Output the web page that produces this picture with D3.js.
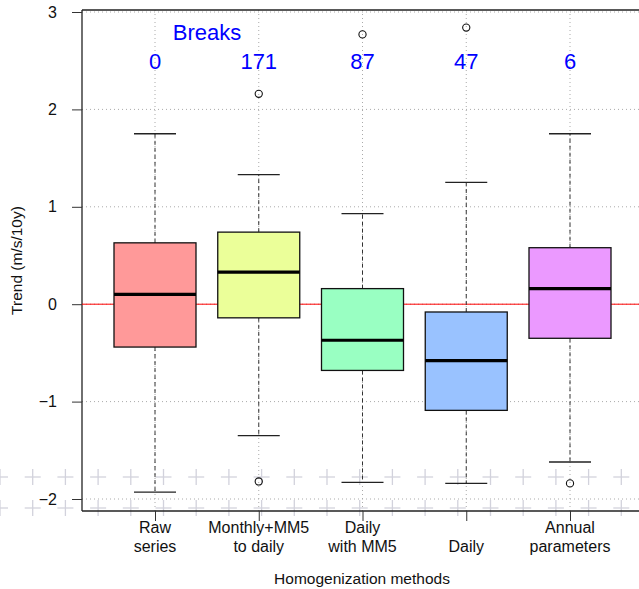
<!DOCTYPE html>
<html>
<head>
<meta charset="utf-8">
<script src="https://cdn.jsdelivr.net/npm/d3@7"></script>
<style>
  body { margin: 0; background: #fff; }
  text { font-family: "Liberation Sans", Arial, sans-serif; }
</style>
</head>
<body>
<div id="chart"></div>
<script>
var svgWidth = 639;
var svgHeight = 589;

// data
var categories = ["Raw\nseries", "Monthly+MM5\nto daily", "Daily\nwith MM5", "Daily", "Annual\nparameters"];
var breaks = [0, 171, 87, 47, 6];
var q1 = [-0.44, -0.14, -0.68, -1.09, -0.35];
var medians = [0.10, 0.33, -0.37, -0.58, 0.16];
var q3 = [0.63, 0.74, 0.16, -0.08, 0.58];
var whiskerLow = [-1.93, -1.35, -1.83, -1.84, -1.62];
var whiskerHigh = [1.75, 1.33, 0.93, 1.25, 1.75];
var outliers = [[], [2.16, -1.82], [2.77], [2.84], [-1.84]];
var boxColors = ["#FF9999", "#EBFF99", "#99FFC2", "#99C2FF", "#EB99FF"];
var yTicks = [-2, -1, 0, 1, 2, 3];

var plot = { left: 82, top: 10, bottom: 511 };

var svg = d3.select("#chart")
  .append("svg")
  .attr("width", svgWidth)
  .attr("height", svgHeight);

// scales
var x = d3.scalePoint()
  .domain(categories)
  .range([155, 570]);

var y = d3.scaleLinear()
  .domain([-2, 3])
  .range([499, 12]);

// faint slide background crosses
var crossGroup = svg.append("g").attr("stroke", "#d2d2dc").attr("stroke-width", 1.3);
[477, 508].forEach(function(cy) {
  d3.range(0, 20).forEach(function(k) {
    var cx = k * 32.7;
    crossGroup.append("line").attr("x1", cx - 8).attr("x2", cx + 8).attr("y1", cy).attr("y2", cy);
    crossGroup.append("line").attr("x1", cx).attr("x2", cx).attr("y1", cy - 8).attr("y2", cy + 8);
  });
});

// grid
var grid = svg.append("g")
  .attr("stroke", "#aaa")
  .attr("stroke-dasharray", "1,3");
yTicks.forEach(function(t) {
  grid.append("line")
    .attr("x1", plot.left).attr("x2", svgWidth)
    .attr("y1", y(t)).attr("y2", y(t));
});
categories.forEach(function(c) {
  grid.append("line")
    .attr("x1", x(c)).attr("x2", x(c))
    .attr("y1", plot.top).attr("y2", plot.bottom);
});

// frame
var frame = svg.append("g").attr("stroke", "#222").attr("stroke-width", 1.3);
frame.append("line").attr("x1", plot.left).attr("x2", plot.left).attr("y1", plot.top).attr("y2", plot.bottom);
frame.append("line").attr("x1", plot.left).attr("x2", svgWidth).attr("y1", plot.top).attr("y2", plot.top);
frame.append("line").attr("x1", plot.left).attr("x2", svgWidth).attr("y1", plot.bottom).attr("y2", plot.bottom);

// y axis
var leftAxis = d3.axisLeft(y)
  .tickValues(yTicks)
  .tickSize(10)
  .tickPadding(15)
  .tickFormat(function(d) { return d < 0 ? "\u2212" + Math.abs(d) : d; });
var yAxis = svg.append("g")
  .attr("transform", "translate(" + plot.left + ",0)")
  .call(leftAxis);
yAxis.select(".domain").remove();
yAxis.selectAll("text").attr("font-size", 16).attr("fill", "#111")
  .attr("font-family", "Liberation Sans, Arial, sans-serif");
yAxis.selectAll("line").attr("stroke", "#333");

// x axis
var bottomAxis = d3.axisBottom(x).tickSize(10).tickFormat("");
var xAxis = svg.append("g")
  .attr("transform", "translate(0," + plot.bottom + ")")
  .call(bottomAxis);
xAxis.select(".domain").remove();
xAxis.selectAll("line").attr("stroke", "#333");

svg.append("g").selectAll("text")
  .data(categories)
  .enter()
  .append("text")
  .attr("x", d => x(d))
  .attr("text-anchor", "middle")
  .attr("font-size", 16)
  .attr("fill", "#111")
  .each(function(d) {
    var lines = d.split("\n");
    var t = d3.select(this);
    if (lines.length === 1) {
      t.append("tspan").attr("x", x(d)).attr("y", 552).text(lines[0]);
    } else {
      lines.forEach(function(l, i) {
        t.append("tspan").attr("x", x(d)).attr("y", 533 + i * 19).text(l);
      });
    }
  });

// zero line
svg.append("line")
  .attr("x1", plot.left).attr("x2", svgWidth)
  .attr("y1", y(0)).attr("y2", y(0))
  .attr("stroke", "#FF0000")
  .attr("stroke-width", 1);

// boxes
var boxWidth = 82;
var capWidth = 42;
var boxes = svg.append("g");
categories.forEach(function(c, i) {
  var cx = x(c);
  var g = boxes.append("g");
  // whiskers
  g.append("line")
    .attr("x1", cx).attr("x2", cx)
    .attr("y1", y(q3[i])).attr("y2", y(whiskerHigh[i]))
    .attr("stroke", "#333").attr("stroke-dasharray", "4,3");
  g.append("line")
    .attr("x1", cx).attr("x2", cx)
    .attr("y1", y(q1[i])).attr("y2", y(whiskerLow[i]))
    .attr("stroke", "#333").attr("stroke-dasharray", "4,3");
  [whiskerHigh[i], whiskerLow[i]].forEach(function(v) {
    g.append("line")
      .attr("x1", cx - capWidth / 2).attr("x2", cx + capWidth / 2)
      .attr("y1", y(v)).attr("y2", y(v))
      .attr("stroke", "#222").attr("stroke-width", 1.3);
  });
  g.append("rect")
    .attr("x", cx - boxWidth / 2)
    .attr("y", y(q3[i]))
    .attr("width", boxWidth)
    .attr("height", y(q1[i]) - y(q3[i]))
    .attr("fill", boxColors[i])
    .attr("stroke", "#111")
    .attr("stroke-width", 1.3);
  g.append("line")
    .attr("x1", cx - boxWidth / 2).attr("x2", cx + boxWidth / 2)
    .attr("y1", y(medians[i])).attr("y2", y(medians[i]))
    .attr("stroke", "#000").attr("stroke-width", 3.2);
  g.selectAll("circle")
    .data(outliers[i])
    .enter()
    .append("circle")
    .attr("cx", cx)
    .attr("cy", d => y(d))
    .attr("r", 3.6)
    .attr("fill", "none")
    .attr("stroke", "#111")
    .attr("stroke-width", 1.1);
});

// break counts
svg.append("text")
  .attr("x", 207)
  .attr("y", 40)
  .attr("text-anchor", "middle")
  .attr("font-size", 22)
  .attr("fill", "#0000FF")
  .text("Breaks");
svg.append("g").selectAll("text")
  .data(breaks)
  .enter()
  .append("text")
  .attr("x", (d, i) => x(categories[i]))
  .attr("y", 69)
  .attr("text-anchor", "middle")
  .attr("font-size", 22)
  .attr("fill", "#0000FF")
  .text(d => d);

// axis titles
svg.append("text")
  .attr("x", 362)
  .attr("y", 584)
  .attr("text-anchor", "middle")
  .attr("font-size", 15.5)
  .attr("fill", "#111")
  .text("Homogenization methods");
svg.append("text")
  .attr("transform", "translate(22," + ((plot.top + plot.bottom) / 2) + ") rotate(-90)")
  .attr("text-anchor", "middle")
  .attr("font-size", 15.5)
  .attr("fill", "#111")
  .text("Trend (m/s/10y)");
</script>
</body>
</html>
